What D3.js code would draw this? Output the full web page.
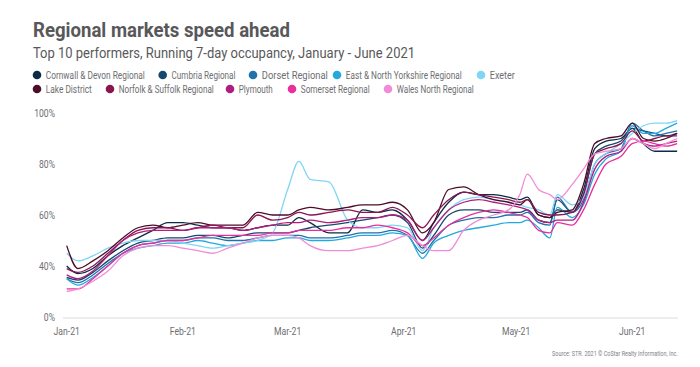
<!DOCTYPE html>
<html><head><meta charset="utf-8">
<script src="https://cdn.jsdelivr.net/npm/d3@7"></script>
<style>
body{margin:0;background:#fff;}
text{font-family:Roboto,"Liberation Sans",sans-serif;}
</style></head>
<body><svg id="c" width="700" height="367"></svg>
<script>
const dates = ["2021-01-01","2021-01-04","2021-01-08","2021-01-12","2021-01-16","2021-01-20","2021-01-24","2021-01-28",
"2021-02-01","2021-02-05","2021-02-09","2021-02-13","2021-02-17","2021-02-21","2021-02-25",
"2021-03-01","2021-03-04","2021-03-07","2021-03-12","2021-03-17","2021-03-21","2021-03-25","2021-03-29",
"2021-04-02","2021-04-06","2021-04-09","2021-04-13","2021-04-17","2021-04-21","2021-04-25","2021-04-29",
"2021-05-02","2021-05-04","2021-05-07","2021-05-10","2021-05-12","2021-05-16","2021-05-19","2021-05-22","2021-05-25","2021-05-29",
"2021-06-01","2021-06-04","2021-06-07","2021-06-10","2021-06-13"];

const seriesNames = ["Cornwall & Devon Regional","Cumbria Regional","Dorset Regional","East & North Yorkshire Regional","Exeter",
"Lake District","Norfolk & Suffolk Regional","Plymouth","Somerset Regional","Wales North Regional"];

const cornwall = [40,34,38,44,48,51,54,57, 57,56,55,55,54,55,56, 56,59,57,53,53,62,61,62, 58,50,57,65,69,68,68,67, 66,67,60,59,62,61,70,86,89,90, 94,88,85,85,85];
const cumbria  = [31,29,35,42,46,49,50,51, 51,52,52,51,52,53,53, 53,54,55,56,57,58,59,60, 57,47,52,60,62,62,61,61, 61,62,58,57,66,61,68,84,87,89, 94,93,92,91,92];
const dorset   = [30,27,33,41,45,48,49,50, 50,51,51,50,50,51,52, 52,52,51,51,52,53,53,54, 52,45,50,56,58,59,59,60, 60,61,57,56,67,61,66,80,84,86, 96,93,91,92,93];
const eastYork = [30,25,31,40,45,47,48,49, 49,50,49,48,49,50,50, 51,51,50,50,51,52,52,53, 52,43,49,52,54,55,56,57, 57,58,55,51,63,59,64,76,82,85, 95,92,92,94,96];
const exeter   = [45,42,44,47,49,50,50,50, 49,48,47,48,49,50,53, 70,81,74,73,58,55,55,56, 55,46,55,62,66,67,66,65, 64,63,62,60,68,64,67,80,84,88, 92,95,96,96,97];
const lake     = [48,38,42,46,51,55,56,55, 56,57,56,56,56,61,60, 60,62,63,62,63,64,64,65, 62,53,57,70,71,68,66,65, 64,66,60,59,61,62,72,88,90,91, 96,90,89,90,92];
const norfolk  = [38,35,40,45,50,54,55,55, 54,55,56,55,55,60,58, 59,61,60,61,62,61,61,63, 60,55,60,66,69,68,67,66, 65,66,61,60,60,61,68,84,86,88, 93,89,90,91,91];
const plymouth = [33,30,36,44,50,53,54,54, 54,55,55,55,54,55,56, 57,57,58,57,58,59,59,60, 58,50,55,62,65,66,65,64, 63,62,58,57,58,58,65,78,83,85, 90,88,87,88,89];
const somerset = [22,22,30,40,45,48,49,50, 50,51,52,52,52,52,53, 53,54,54,54,55,55,56,55, 53,48,51,56,59,61,62,61, 60,59,54,53,57,56,62,72,80,83, 88,89,88,87,88];
const wales    = [20,22,28,36,44,47,48,48, 47,46,45,47,49,51,52, 52,51,48,46,46,47,48,50, 52,48,46,46,54,58,60,62, 68,76,70,68,66,72,78,84,85,86, 90,88,86,88,90];

const seriesValues = [cornwall,cumbria,dorset,eastYork,exeter,lake,norfolk,plymouth,somerset,wales];
const colors = ["#0d2b45","#16476e","#1f72aa","#25a8de","#80d5f5","#4b0d2a","#8a1650","#b11d7e","#ea2f9c","#f28bd7"];

const yTicks = [0,40,60,80,100];
const xTickDates = ["2021-01-01","2021-02-01","2021-03-01","2021-04-01","2021-05-01","2021-06-01"];
const xTickLabels = ["Jan-21","Feb-21","Mar-21","Apr-21","May-21","Jun-21"];

const svg = d3.select("#c");
const parse = d3.utcParse("%Y-%m-%d");
const dd = dates.map(parse);

const x = d3.scaleUtc().domain([parse("2021-01-01"), parse("2021-06-01")]).range([66.7, 632.2]);
const y = d3.scaleLinear().domain([0,40,100]).range([317,266,113]);

function condense(sel, k){
  sel.each(function(){
    const w = this.getComputedTextLength();
    d3.select(this).attr("textLength", w*k).attr("lengthAdjust","spacingAndGlyphs");
  });
}
function fitWidth(sel, w){ sel.attr("textLength", w).attr("lengthAdjust","spacingAndGlyphs"); }

// titles
fitWidth(svg.append("text").attr("x",33).attr("y",37).attr("font-size",20).attr("font-weight","bold").attr("fill","#58585a").text("Regional markets speed ahead"), 257);
fitWidth(svg.append("text").attr("x",33).attr("y",58).attr("font-size",15).attr("fill","#58585a").text("Top 10 performers, Running 7-day occupancy, January - June 2021"), 382);

// legend
const legPos = [[37,75],[162.7,75],[253,75],[337,75],[481,75],[37,89],[110,89],[230,89],[292,89],[388,89]];
const legW = [99,64,66,116,25,46,95,34,69,77];
seriesNames.forEach((n,i)=>{
  const g = svg.append("g").attr("transform",`translate(${legPos[i][0]},${legPos[i][1]})`);
  g.append("circle").attr("r",4.3).attr("fill",colors[i]);
  fitWidth(g.append("text").attr("x",8.8).attr("y",3.6).attr("font-size",10).attr("fill","#6d6e71").text(n), legW[i]);
});

// axes
svg.append("line").attr("x1",63).attr("x2",678).attr("y1",318).attr("y2",318).attr("stroke","#dcdcdc").attr("stroke-width",1);
condense(svg.selectAll(".yt").data(yTicks).join("text").attr("class","yt")
  .attr("x",55).attr("y",d=>y(d)+3.8).attr("text-anchor","end").attr("font-size",10.5).attr("fill","#6d6e71").text(d=>d+"%"), 0.82);
condense(svg.selectAll(".xt").data(xTickDates).join("text").attr("class","xt")
  .attr("x",d=>x(parse(d))).attr("y",335).attr("text-anchor","middle").attr("font-size",10.5).attr("fill","#6d6e71")
  .text((d,i)=>xTickLabels[i]), 0.82);

// lines
const line = d3.line().x((d,i)=>x(dd[i])).y(d=>y(d)).curve(d3.curveMonotoneX);
seriesValues.forEach((vals,i)=>{
  svg.append("path").attr("d",line(vals)).attr("fill","none").attr("stroke",colors[i]).attr("stroke-width",1.3).attr("stroke-linejoin","round");
});

// source note, horizontally scaled to a condensed width
const srcG = svg.append("g");
const src = srcG.append("text").attr("x",0).attr("y",0).attr("font-size",7).attr("fill","#808285")
  .text("Source: STR. 2021 © CoStar Realty Information, Inc.");
const srcW = src.node().getComputedTextLength();
srcG.attr("transform",`translate(552,356) scale(${126/srcW},1)`);
</script></body></html>
